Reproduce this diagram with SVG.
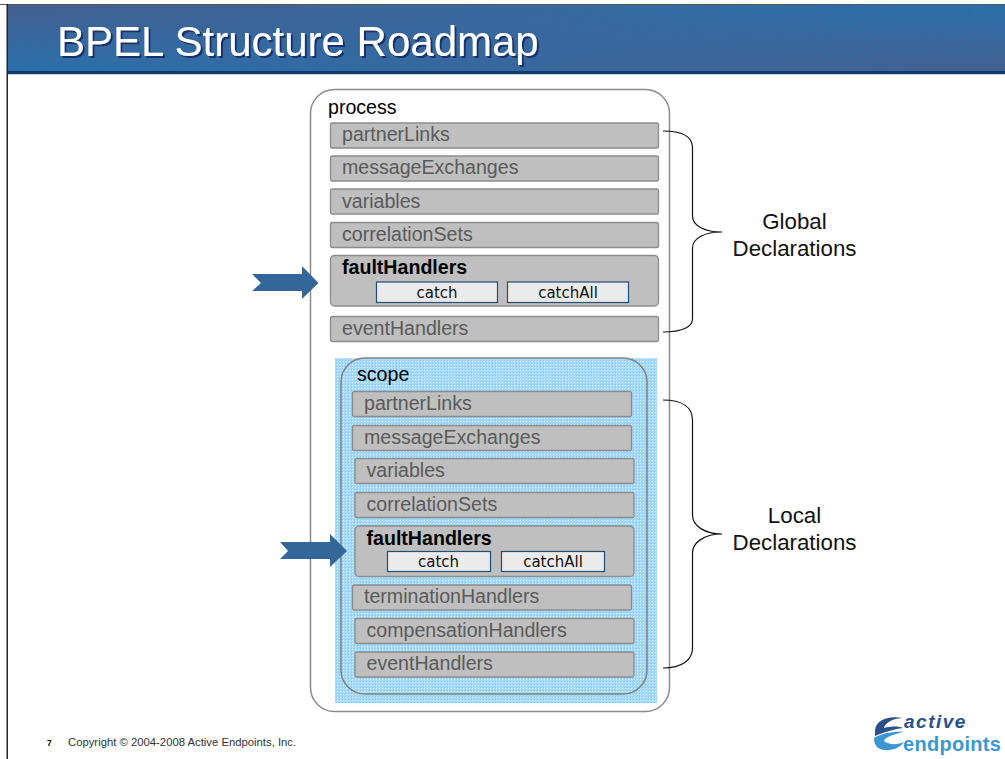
<svg xmlns="http://www.w3.org/2000/svg" width="1005" height="759" viewBox="0 0 1005 759">
<style>
text{font-family:"Liberation Sans",Arial,sans-serif}
.bar{fill:#bfbfbf;stroke:#8c8c8c;stroke-width:1.3}
.lbl{font-size:19.6px;fill:#5a5a5a}
.bold{font-size:19.6px;font-weight:bold;fill:#000}
.head{font-size:19.6px;fill:#000}
.btn{fill:#ebebeb;stroke:#1f4e79;stroke-width:1.2}
.btnt{font-family:"DejaVu Sans",sans-serif;font-size:15px;fill:#111;text-anchor:middle}
.brace{fill:none;stroke:#111;stroke-width:1.2}
.decl{font-size:22.3px;fill:#111;text-anchor:middle}
.arrow{fill:#336699}
</style>
<defs>
<linearGradient id="hdrA" x1="0" y1="0" x2="0" y2="1"><stop offset="0" stop-color="#45608f"/><stop offset="1" stop-color="#2a70ac"/></linearGradient>
<linearGradient id="hdrB" x1="0" y1="0" x2="0" y2="1"><stop offset="0" stop-color="#2a70ac"/><stop offset="1" stop-color="#45608f"/></linearGradient>
<linearGradient id="fade" x1="0" y1="0" x2="1" y2="0"><stop offset="0" stop-color="#000"/><stop offset="1" stop-color="#fff"/></linearGradient>
<mask id="hdrMask" maskUnits="userSpaceOnUse" x="7" y="4" width="998" height="68"><rect x="7" y="4" width="998" height="68" fill="url(#fade)"/></mask>
<filter id="shadow" x="-5%" y="-20%" width="110%" height="140%"><feDropShadow dx="2" dy="2" stdDeviation="0.4" flood-color="#17306e"/></filter>
<pattern id="dots" width="3" height="3" patternUnits="userSpaceOnUse"><rect width="3" height="3" fill="#a5d9fb"/><rect x="1" y="1" width="1" height="1" fill="#e2f3fe"/><rect x="0" y="0" width="1" height="1" fill="#86cbf8"/></pattern>
</defs>
<rect width="1005" height="759" fill="#fff"/>
<g id="header">
<rect x="7" y="4" width="998" height="68" fill="url(#hdrA)"/>
<rect x="7" y="4" width="998" height="68" fill="url(#hdrB)" mask="url(#hdrMask)"/>
<rect x="0" y="4" width="1005" height="1" fill="#555"/>
<rect x="7" y="71" width="998" height="3" fill="#0f3a6e"/>
<rect x="7" y="74" width="998" height="1" fill="#c5d5e0"/>
<rect x="6.5" y="4" width="1.5" height="755" fill="#222"/>
<text x="57" y="56" font-size="42px" fill="#fff" filter="url(#shadow)">BPEL Structure Roadmap</text>
</g>
<g id="process">
<rect x="310.5" y="89.5" width="359" height="622" rx="24" fill="#fff" stroke="#8c8c8c" stroke-width="1.5"/>
<text x="328" y="114" class="head">process</text>
</g>
<g id="global-partnerLinks"><rect class="bar" x="330.5" y="123" width="328" height="25" rx="2"/><text class="lbl" x="342" y="141">partnerLinks</text></g>
<g id="global-messageExchanges"><rect class="bar" x="330.5" y="156" width="328" height="25" rx="2"/><text class="lbl" x="342" y="174">messageExchanges</text></g>
<g id="global-variables"><rect class="bar" x="330.5" y="189" width="328" height="25" rx="2"/><text class="lbl" x="342" y="207.500">variables</text></g>
<g id="global-correlationSets"><rect class="bar" x="330.500" y="222.500" width="328" height="25" rx="2"/><text class="lbl" x="342" y="241">correlationSets</text></g>
<g id="global-faultHandlers">
<rect class="bar" x="330.500" y="255.500" width="328" height="50.500" rx="4"/>
<text class="bold" x="342" y="274">faultHandlers</text>
<rect class="btn" x="376.500" y="282" width="121" height="20.500"/><text class="btnt" x="437" y="298">catch</text>
<rect class="btn" x="507.500" y="282" width="121" height="20.500"/><text class="btnt" x="568" y="298">catchAll</text>
</g>
<g id="global-eventHandlers"><rect class="bar" x="330.500" y="316.500" width="328" height="25" rx="2"/><text class="lbl" x="342" y="335">eventHandlers</text></g>
<g id="scope">
<rect x="335" y="358" width="322" height="345" fill="url(#dots)"/>
<rect x="341" y="358" width="306" height="336" rx="24" fill="none" stroke="#808080" stroke-width="1.500"/>
<text x="357" y="381" class="head">scope</text>
</g>
<g id="local-partnerLinks"><rect class="bar" x="352.500" y="391.500" width="279" height="25" rx="2"/><text class="lbl" x="364" y="410">partnerLinks</text></g>
<g id="local-messageExchanges"><rect class="bar" x="352.500" y="425.500" width="279" height="25" rx="2"/><text class="lbl" x="364" y="444">messageExchanges</text></g>
<g id="local-variables"><rect class="bar" x="355" y="458.500" width="279" height="25" rx="2"/><text class="lbl" x="366.500" y="477">variables</text></g>
<g id="local-correlationSets"><rect class="bar" x="355" y="492.500" width="279" height="25" rx="2"/><text class="lbl" x="366.500" y="511">correlationSets</text></g>
<g id="local-faultHandlers">
<rect class="bar" x="355" y="526" width="279" height="50.500" rx="4"/>
<text class="bold" x="366.500" y="545">faultHandlers</text>
<rect class="btn" x="387.500" y="551.500" width="103" height="20"/><text class="btnt" x="438.500" y="567">catch</text>
<rect class="btn" x="501.500" y="551.500" width="103" height="20"/><text class="btnt" x="553" y="567">catchAll</text>
</g>
<g id="local-terminationHandlers"><rect class="bar" x="352.500" y="585" width="279" height="25" rx="2"/><text class="lbl" x="364" y="603">terminationHandlers</text></g>
<g id="local-compensationHandlers"><rect class="bar" x="355" y="618.500" width="279" height="25" rx="2"/><text class="lbl" x="366.500" y="637">compensationHandlers</text></g>
<g id="local-eventHandlers"><rect class="bar" x="355" y="652" width="279" height="25" rx="2"/><text class="lbl" x="366.500" y="670">eventHandlers</text></g>
<g id="connectors">
<path class="brace" d="M663 131C682 131 692 136 692.500 147V216C692.500 226 705 232 722 232C705 232 692.500 238 692.500 248V319C692.500 327 682 332 663 332"/>
<path class="brace" d="M663 400C682 400 692.500 407 692.500 420V515C692.500 526 705 534 722 534C705 534 692.500 542 692.500 553V648C692.500 660 682 668 663 668"/>
<polygon class="arrow" points="252,274 302,274 302,266 318.500,283 302,299 302,291 252,291 261,283"/>
<polygon class="arrow" points="280,542 330,542 330,534 347,551 330,567 330,559 280,559 288,551"/>
</g>
<g id="declarations">
<text class="decl" x="794.500" y="229">Global</text>
<text class="decl" x="794.500" y="256">Declarations</text>
<text class="decl" x="794.500" y="523">Local</text>
<text class="decl" x="794.500" y="550">Declarations</text>
</g>
<g id="footer">
<text x="47" y="746" font-size="8.500px" font-weight="bold" fill="#000">7</text>
<text x="68" y="746" font-size="11.300px" fill="#333">Copyright © 2004-2008 Active Endpoints, Inc.</text>
</g>
<g id="logo">
<path d="M875 730C876 720 888 715 903 718C895 718 885 722 884 728C892 726 899 726 903 728C895 729 884 732 875 736Z" fill="#2a5089"/>
<path d="M874 738C882 733 895 731 904 732C894 734 885 737 884 741C889 745 897 745 904 742C899 750 884 753 877 747C875 745 874 742 874 738Z" fill="#3b97cf"/>
<text x="904" y="728" font-size="19px" letter-spacing="1.500" font-weight="bold" font-style="italic" fill="#2a5089">active</text>
<text x="903" y="751" font-size="20px" letter-spacing=".3" font-weight="bold" fill="#3b97cf">endpoints</text>
</g>
</svg>
